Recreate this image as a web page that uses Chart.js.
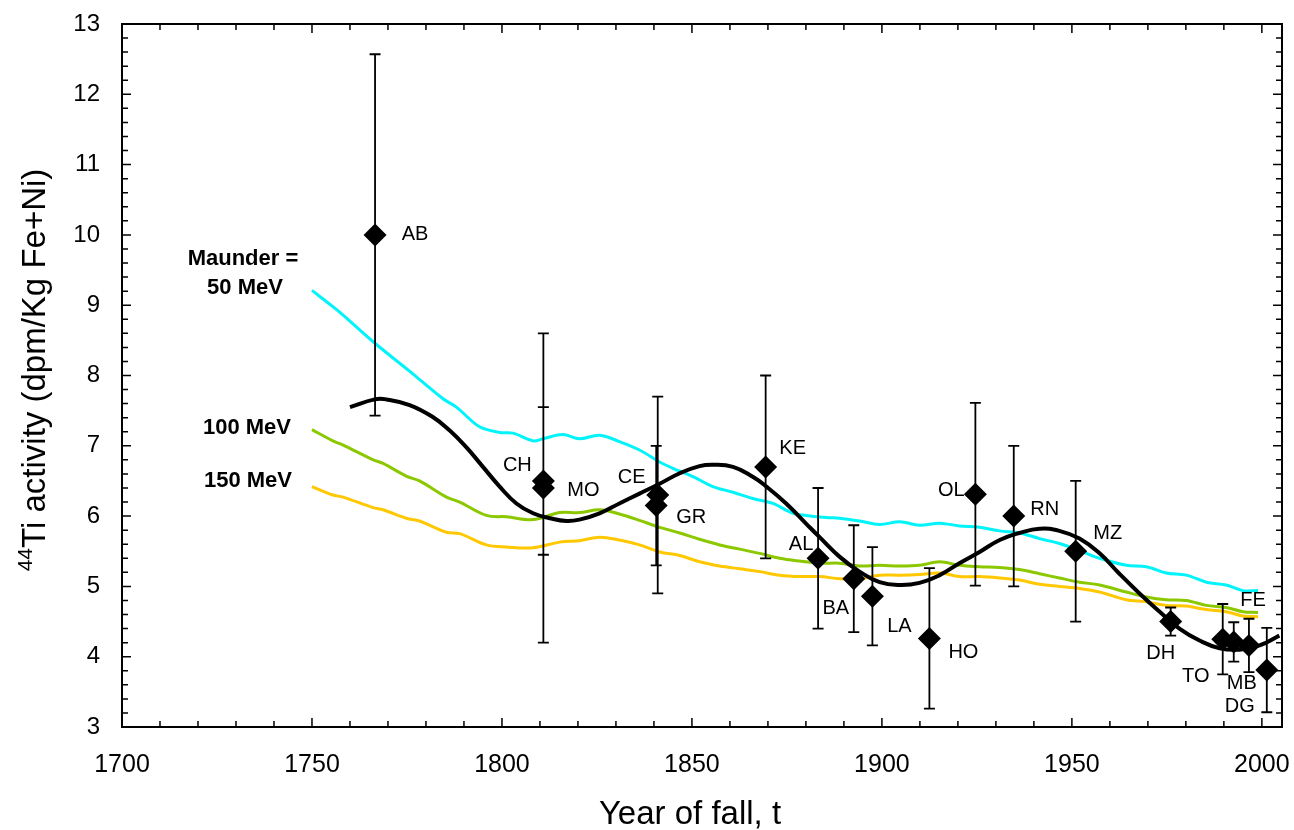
<!DOCTYPE html>
<html>
<head>
<meta charset="utf-8">
<title>44Ti activity vs year of fall</title>
<script src="https://cdn.jsdelivr.net/npm/chart.js@4.4.0/dist/chart.umd.min.js"></script>
<style>
  html, body { margin: 0; padding: 0; background: #fff; }
  #wrap { width: 1294px; height: 830px; }
</style>
</head>
<body>
<div id="wrap"><canvas id="myChart" width="1294" height="830"></canvas></div>
<script>
// meteorite measurements
const meteorites = ['AB','CH','MO','CE','GR','KE','AL','BA','LA','HO','OL','RN','MZ','DH','TO','MB','FE','DG'];
const fallYears = [1766.6, 1810.9, 1810.9, 1841, 1840.6, 1869.4, 1883.2, 1892.6, 1897.5, 1912.5, 1924.6, 1934.7, 1951, 1976, 1989.7, 1992.6, 1996.6, 2001.3];
const activity = [10.0, 6.5, 6.4, 6.3, 6.15, 6.7, 5.4, 5.11, 4.86, 4.26, 6.31, 6.0, 5.5, 4.5, 4.25, 4.21, 4.16, 3.81];
const activityErr = [2.57, 1.05, 2.2, 1.4, 0.85, 1.3, 1.0, 0.76, 0.7, 1.0, 1.3, 1.0, 1.0, 0.2, 0.5, 0.28, 0.38, 0.6];

// model curves (Maunder minimum = 50 / 100 / 150 MeV)
const years50 = [1750, 1755.5, 1758.2, 1766.1, 1774.8, 1777.5, 1784.5, 1788, 1794.1, 1799.4, 1802.9, 1808.2, 1810.8, 1816, 1820.4, 1825.7, 1830.9, 1836.2, 1841.5, 1845, 1850.3, 1855.5, 1860.8, 1866, 1871.3, 1876.6, 1880.1, 1885.4, 1888.9, 1894.1, 1899.4, 1904.7, 1909.9, 1915.2, 1920.4, 1925.7, 1931, 1936.2, 1941.5, 1946.7, 1952, 1957.3, 1964.3, 1969.6, 1974.8, 1980.1, 1985.4, 1990.6, 1995, 1999];
const ti50 = [9.21, 8.98, 8.86, 8.48, 8.10, 7.98, 7.67, 7.55, 7.27, 7.19, 7.18, 7.07, 7.10, 7.16, 7.10, 7.15, 7.06, 6.94, 6.77, 6.68, 6.56, 6.42, 6.34, 6.25, 6.18, 6.04, 6.01, 5.98, 5.97, 5.93, 5.88, 5.92, 5.87, 5.90, 5.86, 5.84, 5.79, 5.76, 5.68, 5.61, 5.51, 5.40, 5.30, 5.28, 5.19, 5.16, 5.06, 5.02, 4.94, 4.94];

const modelYears = [1750, 1755.5, 1758.2, 1766.1, 1768.7, 1774.8, 1778.3, 1785.4, 1788.9, 1795.9, 1801.2, 1808.2, 1815.2, 1820.4, 1825.7, 1830.9, 1836.2, 1841.5, 1846.8, 1852, 1857.3, 1862.6, 1867.8, 1873.1, 1878.3, 1883.6, 1888.9, 1894.1, 1899.4, 1904.7, 1909.9, 1915.2, 1920.4, 1925.7, 1931, 1936.2, 1941.5, 1946.7, 1952, 1957.3, 1964.3, 1969.6, 1974.8, 1980.1, 1985.4, 1990.6, 1995, 1999];
const ti100 = [7.23, 7.07, 7.01, 6.80, 6.75, 6.57, 6.50, 6.27, 6.20, 6.01, 5.99, 5.95, 6.05, 6.05, 6.09, 6.03, 5.94, 5.84, 5.76, 5.67, 5.59, 5.53, 5.47, 5.40, 5.36, 5.33, 5.33, 5.29, 5.30, 5.29, 5.30, 5.35, 5.30, 5.28, 5.27, 5.24, 5.18, 5.12, 5.06, 5.02, 4.92, 4.85, 4.81, 4.80, 4.73, 4.70, 4.64, 4.63];
const ti150 = [6.42, 6.30, 6.27, 6.12, 6.09, 5.97, 5.93, 5.77, 5.75, 5.59, 5.56, 5.55, 5.63, 5.65, 5.70, 5.66, 5.59, 5.49, 5.44, 5.35, 5.29, 5.25, 5.21, 5.16, 5.14, 5.14, 5.11, 5.11, 5.16, 5.16, 5.17, 5.19, 5.14, 5.14, 5.12, 5.09, 5.03, 5.00, 4.97, 4.92, 4.81, 4.78, 4.73, 4.72, 4.67, 4.64, 4.58, 4.57];

// smooth fit through the measurements
const fitYears = [1760, 1766.5, 1769.6, 1775.7, 1781.8, 1786.2, 1790.6, 1795, 1799.4, 1803.8, 1808.2, 1812.6, 1817, 1820.4, 1825.7, 1830.9, 1836.2, 1841.5, 1846.8, 1852, 1855.5, 1860.8, 1866, 1869.6, 1874.8, 1880.1, 1883.6, 1888.9, 1894.1, 1899.4, 1904.7, 1909.9, 1915.2, 1920.4, 1925.7, 1931, 1936.2, 1941.5, 1946.7, 1952, 1957.3, 1962.5, 1967.8, 1973.1, 1978.3, 1983.6, 1988.9, 1994.1, 1999.4, 2004.6];
const fitTi = [7.55, 7.66, 7.66, 7.58, 7.41, 7.22, 6.98, 6.70, 6.42, 6.18, 6.04, 5.97, 5.93, 5.95, 6.04, 6.18, 6.32, 6.46, 6.61, 6.71, 6.73, 6.70, 6.56, 6.42, 6.18, 5.89, 5.70, 5.42, 5.21, 5.06, 5.02, 5.05, 5.16, 5.33, 5.49, 5.66, 5.76, 5.82, 5.79, 5.68, 5.47, 5.18, 4.90, 4.64, 4.40, 4.23, 4.12, 4.10, 4.16, 4.30];

const xTicks = [1700, 1750, 1800, 1850, 1900, 1950, 2000];
const yTicks = [3, 4, 5, 6, 7, 8, 9, 10, 11, 12, 13];
const curveNames = ['Maunder =', '50 MeV', '100 MeV', '150 MeV'];
const xTitle = 'Year of fall, t';
const yTitleSup = '44';
const yTitle = 'Ti activity (dpm/Kg Fe+Ni)';

const FONT = '"Liberation Sans", Arial, Helvetica, sans-serif';
Chart.defaults.font.family = FONT;
Chart.defaults.color = '#000';

const toPts = (xs, ys) => xs.map((v, i) => ({x: v, y: ys[i]}));

// label placement next to each diamond, pixels
const labelOffsets = {
  AB: [40, 0], CH: [-26, -15], MO: [40, 3], CE: [-26, -18], GR: [35, 12],
  KE: [27, -18], AL: [-17, -14], BA: [-18, 30], LA: [27, 30], HO: [34, 14],
  OL: [-24, -4], RN: [31, -7], MZ: [32, -18], DH: [-10, 32], TO: [-27, 37],
  MB: [8, 42], FE: [4, -45], DG: [-27, 36]
};

const errorBars = {
  id: 'errorBars',
  afterDatasetsDraw(chart) {
    const {ctx, scales: {x, y}} = chart;
    ctx.save();
    ctx.strokeStyle = '#000';
    ctx.lineWidth = 1.8;
    ctx.beginPath();
    fallYears.forEach((yr, i) => {
      const px = x.getPixelForValue(yr);
      const top = y.getPixelForValue(activity[i] + activityErr[i]);
      const bot = y.getPixelForValue(activity[i] - activityErr[i]);
      ctx.moveTo(px, top); ctx.lineTo(px, bot);
      ctx.moveTo(px - 5.5, top); ctx.lineTo(px + 5.5, top);
      ctx.moveTo(px - 5.5, bot); ctx.lineTo(px + 5.5, bot);
    });
    ctx.stroke();

    // meteorite names
    ctx.fillStyle = '#000';
    ctx.font = '20px ' + FONT;
    ctx.textAlign = 'center';
    ctx.textBaseline = 'middle';
    meteorites.forEach((name, i) => {
      const off = labelOffsets[name];
      ctx.fillText(name, x.getPixelForValue(fallYears[i]) + off[0], y.getPixelForValue(activity[i]) + off[1]);
    });

    // curve labels, anchored at the start of each model curve
    ctx.font = 'bold 22px ' + FONT;
    const x0 = x.getPixelForValue(years50[0]);
    const y50 = y.getPixelForValue(ti50[0]);
    const y100 = y.getPixelForValue(ti100[0]);
    const y150 = y.getPixelForValue(ti150[0]);
    ctx.fillText(curveNames[0], x0 - 69, y50 - 31);
    ctx.fillText(curveNames[1], x0 - 67, y50 - 2);
    ctx.fillText(curveNames[2], x0 - 65, y100 - 2);
    ctx.fillText(curveNames[3], x0 - 64, y150 - 6);
    ctx.restore();
  }
};

const frameTicks = {
  id: 'frameTicks',
  afterDraw(chart) {
    const {ctx, chartArea: a, scales: {x, y}} = chart;
    ctx.save();
    ctx.strokeStyle = '#000';
    ctx.lineWidth = 1.5;
    ctx.beginPath();
    for (let yr = 1710; yr <= 2000; yr += 10) {
      const px = x.getPixelForValue(yr);
      const len = yr % 50 === 0 ? 9 : 6;
      ctx.moveTo(px, a.bottom); ctx.lineTo(px, a.bottom - len);
      ctx.moveTo(px, a.top); ctx.lineTo(px, a.top + len);
    }
    for (let i = 1; i < 50; i++) {
      const py = y.getPixelForValue(3 + i * 0.2);
      const len = i % 5 === 0 ? 9 : 6;
      ctx.moveTo(a.left, py); ctx.lineTo(a.left + len, py);
      ctx.moveTo(a.right, py); ctx.lineTo(a.right - len, py);
    }
    ctx.stroke();
    ctx.lineWidth = 2;
    ctx.strokeRect(a.left, a.top, a.right - a.left, a.bottom - a.top);

    // axis titles
    ctx.fillStyle = '#000';
    ctx.textBaseline = 'alphabetic';
    ctx.textAlign = 'center';
    ctx.font = '33px ' + FONT;
    ctx.fillText(xTitle, (a.left + a.right) / 2 - 12, 824);

    ctx.translate(45, 370);
    ctx.rotate(-Math.PI / 2);
    ctx.textAlign = 'left';
    ctx.font = '21px ' + FONT;
    const sw = ctx.measureText(yTitleSup).width;
    ctx.font = '33px ' + FONT;
    const mw = ctx.measureText(yTitle).width;
    const start = -(sw + mw) / 2;
    ctx.font = '21px ' + FONT;
    ctx.fillText(yTitleSup, start, -13);
    ctx.font = '33px ' + FONT;
    ctx.fillText(yTitle, start + sw, 0);
    ctx.restore();
  }
};

const lineStyle = {
  type: 'line',
  pointRadius: 0,
  borderWidth: 3,
  fill: false,
  tension: 0.35
};

new Chart(document.getElementById('myChart').getContext('2d'), {
  type: 'line',
  data: {
    datasets: [
      {
        type: 'scatter',
        label: 'Meteorites',
        data: toPts(fallYears, activity),
        pointStyle: 'rectRot',
        pointRadius: 11.5,
        backgroundColor: '#000',
        borderWidth: 0,
        order: 0
      },
      Object.assign({}, lineStyle, {label: 'Fit', data: toPts(fitYears, fitTi), borderColor: '#000', borderWidth: 4, tension: 0.45, order: 1}),
      Object.assign({}, lineStyle, {label: '50 MeV', data: toPts(years50, ti50), borderColor: '#00f4fa', order: 2}),
      Object.assign({}, lineStyle, {label: '100 MeV', data: toPts(modelYears, ti100), borderColor: '#8cc800', order: 3}),
      Object.assign({}, lineStyle, {label: '150 MeV', data: toPts(modelYears, ti150), borderColor: '#ffc800', order: 4})
    ]
  },
  options: {
    responsive: false,
    animation: false,
    layout: { padding: { top: 24, right: 12, left: 0, bottom: 0 } },
    plugins: { legend: { display: false }, tooltip: { enabled: false } },
    scales: {
      x: {
        type: 'linear',
        min: 1700,
        max: 2005.3,
        grid: { display: false, drawTicks: false },
        border: { display: false },
        afterBuildTicks: (scale) => { scale.ticks = xTicks.map(v => ({value: v})); },
        ticks: { font: { size: 25 }, color: '#000', padding: 23, maxRotation: 0, callback: (v) => String(v) },
        afterFit: (scale) => { scale.height = 103; scale.paddingLeft = 0; scale.paddingRight = 0; }
      },
      y: {
        min: 3,
        max: 13,
        grid: { display: false, drawTicks: false },
        border: { display: false },
        afterBuildTicks: (scale) => { scale.ticks = yTicks.map(v => ({value: v})); },
        ticks: { font: { size: 24 }, color: '#000', padding: 22, callback: (v) => String(v) },
        afterFit: (scale) => { scale.width = 122; scale.paddingTop = 0; scale.paddingBottom = 0; }
      }
    }
  },
  plugins: [errorBars, frameTicks]
});
</script>
</body>
</html>
